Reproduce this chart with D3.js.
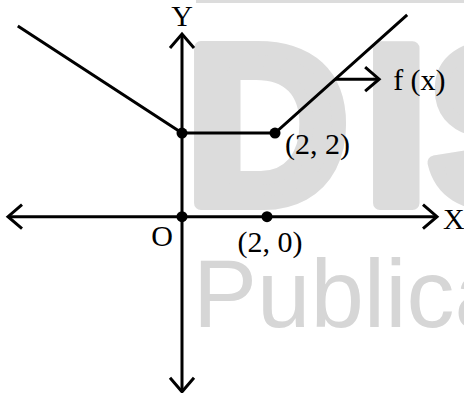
<!DOCTYPE html>
<html>
<head>
<meta charset="utf-8">
<script src="https://cdn.jsdelivr.net/npm/d3@7"></script>
<style>
  body { margin: 0; background: #fff; }
  svg { display: block; }
</style>
</head>
<body>
<div id="grafico"></div>
<script>
// valores (unidades del plano)
var curveX = [-3.69, 0, 2.09, 5.06],
    curveY = [4.56, 2, 2, 4.83];
var dotX = [0, 2.09, 0, 1.91],
    dotY = [2, 2, 0, 0];
var axisX = [-3.91, 5.73],   // extremos del eje X
    axisY = [-4.19, 4.37];   // extremos del eje Y
var pointerX = [3.44, 4.43], pointerY = 3.29;
var labels = ["Y", "X", "O", "(2, 2)", "(2, 0)", "f (x)"],
    labelX = [0, 5.73, 0, 2.09, 1.91, 4.43],
    labelY = [4.37, 0, 0, 2, 0, 3.29];

var w = 464, h = 393;

var svg = d3.select("#grafico")
            .append("svg")
            .attr("width", w)
            .attr("height", h)
            .style("background-color", "white");

// marca de agua
svg.append("rect")
   .attr("x", 196).attr("y", 0)
   .attr("width", w - 196).attr("height", 3)
   .attr("fill", "#dcdcdc");
var wm = ["D", "I", "S"], wmX = [186, 365, 428];
svg.selectAll(".wm")
   .data(wm)
   .enter()
   .append("text")
   .attr("class", "wm")
   .attr("x", function (d, i) { return wmX[i]; })
   .attr("y", 203)
   .attr("font-family", "Liberation Sans, Arial, sans-serif")
   .attr("font-weight", "bold")
   .attr("font-size", 225)
   .attr("fill", "#dcdcdc")
   .attr("stroke", "#dcdcdc")
   .attr("stroke-width", 14)
   .attr("stroke-linejoin", "round")
   .text(function (d) { return d; });
svg.append("text")
   .attr("x", 193).attr("y", 327)
   .attr("font-family", "Liberation Sans, Arial, sans-serif")
   .attr("font-size", 96)
   .attr("fill", "#d6d6d6")
   .text("Publica");

var xScale = d3.scaleLinear().domain([-4, 6]).range([182 - 4 * 44.5, 182 + 6 * 44.5]),
    yScale = d3.scaleLinear().domain([-4, 5]).range([216.7 + 4 * 41.8, 216.7 - 5 * 41.8]);

var g = svg.append("g");

// flechas abiertas
function chevron(tx, ty, angle) {
    g.append("path")
     .attr("d", "M-14,-12L0,0L-14,12")
     .attr("transform", "translate(" + tx + "," + ty + ") rotate(" + angle + ")")
     .attr("fill", "none")
     .attr("stroke", "black")
     .attr("stroke-width", 3);
}

// ejes
g.append("line")
 .attr("x1", xScale(axisX[0])).attr("x2", xScale(axisX[1]))
 .attr("y1", yScale(0)).attr("y2", yScale(0))
 .attr("stroke", "black").attr("stroke-width", 3);
g.append("line")
 .attr("x1", xScale(0)).attr("x2", xScale(0))
 .attr("y1", yScale(axisY[0])).attr("y2", yScale(axisY[1]))
 .attr("stroke", "black").attr("stroke-width", 3);
chevron(xScale(axisX[1]), yScale(0), 0);
chevron(xScale(axisX[0]), yScale(0), 180);
chevron(xScale(0), yScale(axisY[1]), -90);
chevron(xScale(0), yScale(axisY[0]), 90);

// f(x)
var line = d3.line()
    .x(function (d) { return xScale(d[0]); })
    .y(function (d) { return yScale(d[1]); });

g.append("path")
 .datum(curveX.map(function (d, i) { return [d, curveY[i]]; }))
 .attr("d", line)
 .attr("fill", "none")
 .attr("stroke", "black")
 .attr("stroke-width", 3);

g.append("line")
 .attr("x1", xScale(pointerX[0])).attr("x2", xScale(pointerX[1]))
 .attr("y1", yScale(pointerY)).attr("y2", yScale(pointerY))
 .attr("stroke", "black").attr("stroke-width", 3);
chevron(xScale(pointerX[1]), yScale(pointerY), 0);

g.selectAll("circle")
 .data(dotX)
 .enter()
 .append("circle")
 .attr("cx", function (d) { return xScale(d); })
 .attr("cy", function (d, i) { return yScale(dotY[i]); })
 .attr("r", 5.5)
 .attr("fill", "black");

// textos
var offX = [0, 6, -20, 10, 3, 14],
    offY = [-8, 12, 29, 21, 35, 11],
    anchor = ["middle", "start", "middle", "start", "middle", "start"];

g.selectAll(".lbl")
 .data(labels)
 .enter()
 .append("text")
 .attr("class", "lbl")
 .attr("x", function (d, i) { return xScale(labelX[i]) + offX[i]; })
 .attr("y", function (d, i) { return yScale(labelY[i]) + offY[i]; })
 .attr("text-anchor", function (d, i) { return anchor[i]; })
 .attr("font-family", "Liberation Serif, Times New Roman, serif")
 .attr("font-size", 30)
 .attr("fill", "black")
 .text(function (d) { return d; });
</script>
</body>
</html>
